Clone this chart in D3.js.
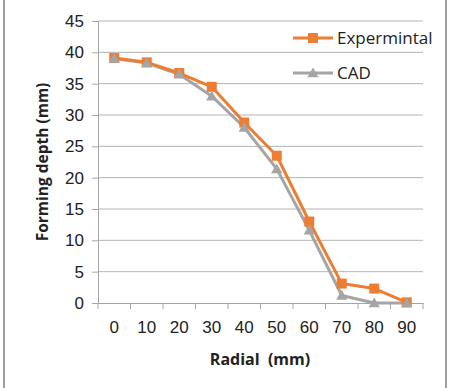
<!DOCTYPE html>
<html>
<head>
<meta charset="utf-8">
<script src="https://cdn.jsdelivr.net/npm/d3@7"></script>
<style>
  body { margin: 0; background: #fff; }
  svg { font-family: "Open Sans", Lato, sans-serif; }
</style>
</head>
<body>
<div id="chart"></div>
<script>
// chart data
var radial = ["0", "10", "20", "30", "40", "50", "60", "70", "80", "90"];
var experimental = [39.1, 38.4, 36.7, 34.5, 28.8, 23.5, 13.0, 3.1, 2.3, 0.1];
var cad = [39.0, 38.3, 36.5, 33.0, 28.0, 21.4, 11.6, 1.2, 0.0, 0.0];
var yTicks = [0, 5, 10, 15, 20, 25, 30, 35, 40, 45];

var W = 451, H = 388;
var margin = {top: 21, right: 28, bottom: 85, left: 98};
var width = W - margin.left - margin.right,
    height = H - margin.top - margin.bottom;

var svg = d3.select("#chart").append("svg")
    .attr("width", W)
    .attr("height", H);

// frame lines at left and right
svg.append("line").attr("x1", 4).attr("x2", 4).attr("y1", 0).attr("y2", H)
    .attr("stroke", "#7f7f7f").attr("stroke-width", 1.5);
svg.append("line").attr("x1", 446).attr("x2", 446).attr("y1", 0).attr("y2", H)
    .attr("stroke", "#7f7f7f").attr("stroke-width", 1.5);

var g = svg.append("g")
    .attr("transform", "translate(" + margin.left + "," + margin.top + ")");

var x = d3.scaleBand().domain(radial).range([0, width]);
var y = d3.scaleLinear().domain([0, 45]).range([height, 0]);

// gridlines
g.selectAll(".grid").data(yTicks.slice(1)).enter().append("line")
    .attr("x1", 0).attr("x2", width)
    .attr("y1", function(d) { return y(d); })
    .attr("y2", function(d) { return y(d); })
    .attr("stroke", "#b4b4b4").attr("stroke-width", 1);

// y axis
var yAxis = g.append("g")
    .call(d3.axisLeft(y).tickValues(yTicks).tickSize(6).tickPadding(8));
yAxis.select(".domain").attr("stroke", "#a6a6a6");
yAxis.selectAll(".tick line").attr("stroke", "#a6a6a6");
yAxis.selectAll("text").attr("font-size", 17).attr("fill", "#222");

// x axis with ticks at band edges
var xAxis = g.append("g").attr("transform", "translate(0," + height + ")")
    .call(d3.axisBottom(x).tickSize(0).tickPadding(18));
xAxis.select(".domain").attr("stroke", "#a6a6a6");
xAxis.selectAll("text").attr("font-size", 17).attr("fill", "#222");
var edges = radial.map(function(d) { return x(d); }).concat([width]);
g.selectAll(".xtick").data(edges).enter().append("line")
    .attr("x1", function(d) { return d; }).attr("x2", function(d) { return d; })
    .attr("y1", height).attr("y2", height + 6)
    .attr("stroke", "#a6a6a6");

// axis titles
svg.append("text")
    .attr("x", 260).attr("y", 365)
    .attr("text-anchor", "middle")
    .style("white-space", "pre")
    .attr("font-size", 16).attr("font-weight", "bold").attr("fill", "#222")
    .text("Radial  (mm)");
svg.append("text")
    .attr("transform", "translate(48,162) rotate(-90)")
    .attr("text-anchor", "middle")
    .attr("font-size", 15.5).attr("font-weight", "bold").attr("fill", "#222")
    .text("Forming depth (mm)");

var line = d3.line()
    .x(function(d, i) { return x(radial[i]) + x.bandwidth() / 2; })
    .y(function(d) { return y(d); });

var orange = "#ed7d31", grey = "#a5a5a5";

// CAD series
g.append("path").datum(cad).attr("d", line)
    .attr("fill", "none").attr("stroke", grey).attr("stroke-width", 3)
    .attr("stroke-linejoin", "round");
// Experimental series
g.append("path").datum(experimental).attr("d", line)
    .attr("fill", "none").attr("stroke", orange).attr("stroke-width", 3)
    .attr("stroke-linejoin", "round");

var tri = d3.symbol().type(d3.symbolTriangle).size(55);

g.selectAll(".sq").data(experimental).enter().append("rect")
    .attr("x", function(d, i) { return x(radial[i]) + x.bandwidth() / 2 - 5; })
    .attr("y", function(d) { return y(d) - 5; })
    .attr("width", 10).attr("height", 10)
    .attr("fill", orange);

g.selectAll(".tri").data(cad).enter().append("path")
    .attr("d", tri)
    .attr("transform", function(d, i) {
        return "translate(" + (x(radial[i]) + x.bandwidth() / 2) + "," + (y(d) + 1) + ")";
    })
    .attr("fill", grey);

// legend
var legend = [
    {name: "Expermintal", color: orange, y: 38, shape: "sq"},
    {name: "CAD", color: grey, y: 73, shape: "tri"}
];
var lg = svg.selectAll(".legend").data(legend).enter().append("g")
    .attr("transform", function(d) { return "translate(293," + d.y + ")"; });
lg.append("line").attr("x1", 0).attr("x2", 40).attr("y1", 0).attr("y2", 0)
    .attr("stroke", function(d) { return d.color; }).attr("stroke-width", 3);
lg.filter(function(d) { return d.shape === "sq"; }).append("rect")
    .attr("x", 15).attr("y", -5).attr("width", 10).attr("height", 10)
    .attr("fill", orange);
lg.filter(function(d) { return d.shape === "tri"; }).append("path")
    .attr("d", tri).attr("transform", "translate(20,1)")
    .attr("fill", grey);
lg.append("text").attr("x", 44).attr("y", 0).attr("dy", "0.35em")
    .attr("font-size", 17).attr("fill", "#222")
    .text(function(d) { return d.name; });
</script>
</body>
</html>
